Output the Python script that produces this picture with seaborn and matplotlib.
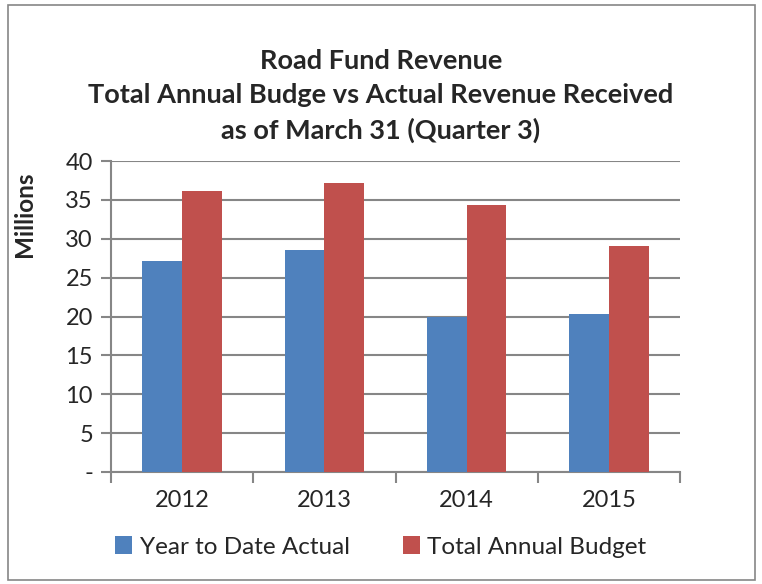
import pandas as pd
import matplotlib
matplotlib.use('Agg')
import matplotlib.pyplot as plt
import seaborn as sns
from matplotlib.patches import Rectangle

years = ["2012", "2013", "2014", "2015"]
ytd_actual = [27.1, 28.6, 19.9, 20.3]
annual_budget = [36.2, 37.2, 34.3, 29.1]
series_names = ["Year to Date Actual", "Total Annual Budget"]
y_ticks = [0, 5, 10, 15, 20, 25, 30, 35, 40]
y_tick_labels = ["-", "5", "10", "15", "20", "25", "30", "35", "40"]

df = pd.DataFrame({
    "Year": years * 2,
    "Value": ytd_actual + annual_budget,
    "Series": [series_names[0]] * 4 + [series_names[1]] * 4,
})

sns.set_style("white")
plt.rcParams['font.family'] = ['Lato', 'DejaVu Sans']

fig = plt.figure(figsize=(7.62, 5.84), dpi=100)
ax = fig.add_axes([111 / 762, 1 - 472 / 584, 569 / 762, 311 / 584])

sns.barplot(data=df, x="Year", y="Value", hue="Series", ax=ax,
            palette=["#4F81BD", "#C0504D"], width=0.56, saturation=1,
            edgecolor="none", zorder=3)

grid_color = "#868686"
ax.set_ylim(0, 40)
ax.set_xlim(-0.5, 3.5)
ax.set_yticks(y_ticks)
ax.set_yticklabels(y_tick_labels, fontsize=17)
ax.yaxis.grid(True, color=grid_color, linewidth=1.5, zorder=0)
ax.tick_params(axis="y", length=7, width=1.5, color=grid_color, pad=6, left=True)
ax.set_xticks([0, 1, 2, 3])
ax.set_xticklabels(years, fontsize=17)
ax.tick_params(axis="x", which="major", length=0, pad=13)
ax.set_xticks([-0.5, 0.5, 1.5, 2.5, 3.5], minor=True)
ax.tick_params(axis="x", which="minor", length=8, width=1.5, color=grid_color, bottom=True)
for s in ["top", "right"]:
    ax.spines[s].set_visible(False)
for s in ["left", "bottom"]:
    ax.spines[s].set_color(grid_color)
    ax.spines[s].set_linewidth(1.5)
ax.set_xlabel("")
ax.set_ylabel("")

ax.legend(loc="center", bbox_to_anchor=(0.5, 1 - 547 / 584), bbox_transform=fig.transFigure,
          ncol=2, frameon=False, fontsize=17.5, handlelength=0.7, handleheight=0.7,
          handletextpad=0.3, columnspacing=2.2)

fig.text(25 / 762, 1 - 214 / 584, "Millions", rotation=90, fontsize=17.5, fontweight="bold",
         ha="center", va="center")
fig.text(0.5, 1 - 96 / 584, "Road Fund Revenue\nTotal Annual Budge vs Actual Revenue Received\nas of March 31 (Quarter 3)",
         ha="center", va="center", fontsize=19.5, fontweight="bold", linespacing=1.48)

fig.patches.append(Rectangle((8 / 762, 1 - 580 / 584), 747 / 762, 575 / 584,
                             transform=fig.transFigure, fill=False, edgecolor="#868686",
                             linewidth=1.2))

plt.savefig("out.png", dpi=100)
plt.close()
